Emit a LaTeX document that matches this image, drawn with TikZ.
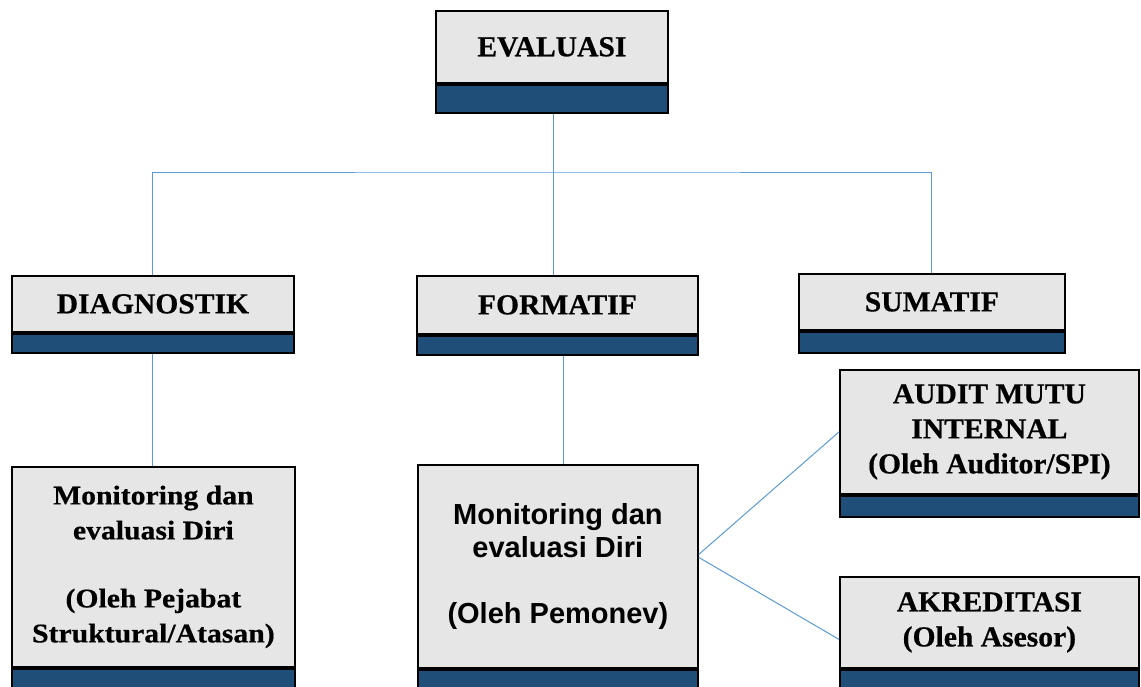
\documentclass[tikz,border=0pt]{standalone}
\usepackage{fontspec}
\setmainfont{Liberation Serif}
\newfontfamily\boxserif[FakeStretch=1.02,FakeBold=0.6]{Liberation Serif}
\newfontfamily\boxserifwide[FakeStretch=1.1,FakeBold=0.6]{Liberation Serif}
\newfontfamily\boxsans{Liberation Sans}
\definecolor{boxgrey}{HTML}{E6E6E6}
\definecolor{bandblue}{HTML}{1F4E79}
\definecolor{linkblue}{HTML}{5B9BD5}
\begin{document}
\begin{tikzpicture}[x=1pt,y=-1pt,
  box/.style={draw=black, line width=1.8pt, fill=boxgrey, inner sep=0pt,
    anchor=north west, align=center,
    font=\boxserif\bfseries\fontsize{29}{35}\selectfont},
  widebox/.style={box, font=\boxserifwide\bfseries\fontsize{27}{35}\selectfont},
  sansbox/.style={box, font=\boxsans\bfseries\fontsize{29}{33}\selectfont},
  band/.style={draw=black, line width=1.8pt, fill=bandblue, inner sep=0pt,
    anchor=north west},
  conn/.style={draw=linkblue, line width=1pt}]

\useasboundingbox (0,0) rectangle (1141,686);
\clip (0,0) rectangle (1141,686);

% top level
\node[box, minimum width=232pt, minimum height=72pt] (eval) at (435,10) {EVALUASI};
\node[band, minimum width=232pt, minimum height=28pt] (evalb) at (eval.south west) {};

% second level
\node[box, minimum width=282pt, minimum height=56pt] (diag) at (11,275) {DIAGNOSTIK};
\node[band, minimum width=282pt, minimum height=19pt] (diagb) at (diag.south west) {};

\node[box, minimum width=281pt, minimum height=58pt] (form) at (416,275) {FORMATIF};
\node[band, minimum width=281pt, minimum height=19pt] (formb) at (form.south west) {};

\node[box, minimum width=266pt, minimum height=56pt] (sum) at (798,273) {SUMATIF};
\node[band, minimum width=266pt, minimum height=21pt] (sumb) at (sum.south west) {};

% third level
\node[widebox, minimum width=283pt, minimum height=200pt] (diagmon) at (11,466)
  {Monitoring dan\\ evaluasi Diri\\[33pt] (Oleh Pejabat\\ Struktural/Atasan)};
\node[band, minimum width=283pt, minimum height=30pt] (diagmonb) at (diagmon.south west) {};

\node[sansbox, minimum width=280pt, minimum height=203pt] (formmon) at (417,464)
  {Monitoring dan\\ evaluasi Diri\\[33pt] (Oleh Pemonev)};
\node[band, minimum width=280pt, minimum height=30pt] (formmonb) at (formmon.south west) {};

\node[box, minimum width=299pt, minimum height=124pt] (audit) at (839,369)
  {AUDIT MUTU\\ INTERNAL\\ (Oleh Auditor/SPI)};
\node[band, minimum width=299pt, minimum height=21pt] (auditb) at (audit.south west) {};

\node[box, minimum width=299pt, minimum height=91pt] (akr) at (839,576)
  {AKREDITASI\\ (Oleh Asesor)};
\node[band, minimum width=299pt, minimum height=30pt] (akrb) at (akr.south west) {};

% connectors
\coordinate (hub) at (553,172);
\draw[conn] (hub |- evalb.south) -- (hub);
\draw[conn] (diag.north) |- (hub) -| (sum.north);
\draw[conn] (hub) -- (hub |- form.north);
\draw[conn] (diagb.south) -- (diagb.south |- diagmon.north);
\draw[conn] ([xshift=6pt]formb.south) -- ([xshift=6pt]formb.south |- formmon.north);
\coordinate (fork) at ([yshift=12pt]formmon.east);
\draw[conn] (fork) -- (audit.west);
\draw[conn] ([yshift=-3pt]fork) -- ([yshift=-17pt]akr.west);
\end{tikzpicture}
\end{document}
